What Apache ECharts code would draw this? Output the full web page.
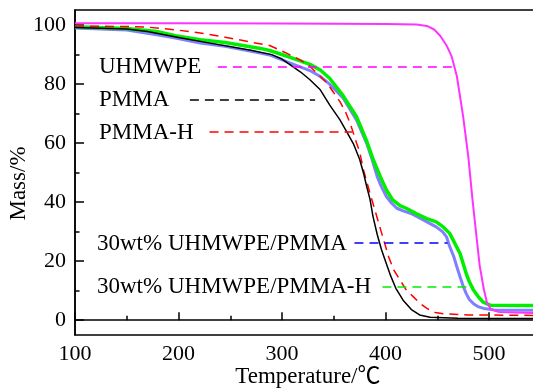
<!DOCTYPE html>
<html>
<head>
<meta charset="utf-8">
<script src="https://cdn.jsdelivr.net/npm/echarts@6/dist/echarts.min.js"></script>
<style>
  html, body { margin: 0; padding: 0; background: #fff; }
  #chart { width: 533px; height: 389px; }
</style>
</head>
<body>
<div id="chart"></div>
<script>
const xTicks = [100, 200, 300, 400, 500];
const xMinorTicks = [150, 250, 350, 450];
const yTicks = [0, 20, 40, 60, 80, 100];
const yMinorTicks = [10, 30, 50, 70, 90];

// [temperature, mass%]
const uhmwpe = [[100,100.5],[200,100.5],[300,100.4],[400,100.3],[430,100.1],[440,99.6],[447,98.4],[453,96.2],[459,93],[464,89.2],[469,82.5],[475,69],[480,55.4],[484,41],[488,28],[491,18.5],[495,10.5],[498,6],[502,3.6],[510,2.8],[550,2.4]];
const pmma = [[100,99.1],[150,98.6],[170,97.7],[200,95.7],[240,93.2],[270,91.4],[290,89.9],[300,88.4],[308,86.4],[318,84.0],[327,81.4],[337,78.0],[346,72.9],[356,67.8],[363,63.5],[369,59.7],[375,54.5],[379,49.5],[382,45],[385,41],[388,35],[392,29],[396,24],[400,20],[405,15],[410,10.8],[417,6.8],[425,3.6],[433,1.8],[443,1.0],[470,0.7],[550,0.6]];
const pmmaH = [[100,99.6],[150,99.4],[170,99.2],[197,98.3],[221,97.2],[245,95.8],[272,94.0],[288,93.0],[305,90.3],[318,88],[327,85.9],[337,82.5],[343,80.5],[349,77.5],[356,74],[362,70],[366,66.5],[372,60],[375,57],[379,50.5],[385,43],[390,37],[395,31],[403,21.5],[408,17],[414,13.6],[420,10.3],[427,7.9],[433,5.8],[440,4.0],[448,2.6],[456,2.2],[480,1.8],[550,1.6]];
const blend = [[100,98.9],[150,98.2],[179,96.6],[197,95.5],[221,93.8],[245,92.7],[279,90.4],[288,89.8],[308,87],[327,84.5],[337,82.5],[346,79.9],[359,75.2],[372,67.8],[382,59.7],[387,54.5],[392,48.6],[396,45.2],[401,41.8],[406,39.6],[411,37.9],[417,37],[424,36.2],[432,34.8],[440,33.3],[449,31.6],[455,30],[459,28.2],[462,25],[466,21.5],[469,18],[472,14.7],[475,11.6],[478,9],[481,7.0],[485,5.6],[490,4.5],[495,4],[505,3.5],[550,3.4]];
const blendH = [[100,99.3],[150,98.7],[179,97.7],[197,96.3],[221,94.9],[245,94.0],[279,92.0],[288,91.3],[308,89.0],[327,86.6],[337,84.7],[346,81.9],[359,76],[372,68.9],[382,60.5],[388,54.5],[395,48.6],[401,44],[407,40.7],[414,38.8],[420,37.9],[430,36],[440,34.4],[449,33.3],[456,31.5],[462,29.4],[467,26],[472,22.6],[478,15.8],[481,13],[485,10.2],[490,7.8],[494,6.2],[501,5.1],[550,5.0]];

const names = ['UHMWPE', 'PMMA', 'PMMA-H', '30wt% UHMWPE/PMMA', '30wt% UHMWPE/PMMA-H'];
const keyY = [85.8, 74.6, 63.7, 26.1, 11.5];
const keyFrom = [238, 211, 230, 370, 397];
const keyTo = [465, 332, 368, 460, 485];

const FONT = "'Liberation Serif', 'Noto Sans CJK SC', serif";
const chart = echarts.init(document.getElementById('chart'));

function keyLine(i, color) {
  return {
    silent: true,
    symbol: 'none',
    label: { show: false },
    lineStyle: { color: color, type: [9, 6], width: 1.5 },
    data: [[{ coord: [keyFrom[i], keyY[i]] }, { coord: [keyTo[i], keyY[i]] }]]
  };
}

const axisText = { color: '#000', fontSize: 22, fontFamily: FONT };
const nameText = { color: '#000', fontSize: 23, fontFamily: FONT };

chart.setOption({
  animation: false,
  backgroundColor: '#fff',
  grid: {
    left: 75, top: 10, bottom: 54, right: -7.75,
    outerBoundsMode: 'none', containLabel: false,
    show: true, borderColor: '#000', borderWidth: 1.5
  },
  xAxis: [
    {
      type: 'value', min: 100, max: 550,
      name: 'Temperature/℃', nameLocation: 'middle', nameGap: 30, nameMoveOverlap: false,
      nameTextStyle: nameText,
      axisLine: { lineStyle: { color: '#000', width: 1.5 } },
      axisTick: { inside: true, length: 8, customValues: xTicks, lineStyle: { color: '#000', width: 1.5 } },
      axisLabel: Object.assign({ customValues: xTicks, margin: 8 }, axisText),
      splitLine: { show: false }
    },
    {
      type: 'value', min: 100, max: 550, position: 'bottom',
      axisLine: { show: false },
      axisTick: { inside: true, length: 4.5, customValues: xMinorTicks, lineStyle: { color: '#000', width: 1.5 } },
      axisLabel: { show: false },
      splitLine: { show: false }
    }
  ],
  yAxis: [
    {
      type: 'value', min: -5, max: 105,
      name: 'Mass/%', nameLocation: 'middle', nameGap: 45, nameMoveOverlap: false,
      nameTextStyle: Object.assign({ padding: [0, 22, 0, 0] }, nameText),
      axisLine: { show: true, lineStyle: { color: '#000', width: 1.5 } },
      axisTick: { show: true, inside: true, length: 9, customValues: yTicks, lineStyle: { color: '#000', width: 1.5 } },
      axisLabel: Object.assign({ customValues: yTicks, margin: 9 }, axisText),
      splitLine: { show: false }
    },
    {
      type: 'value', min: -5, max: 105, position: 'left',
      axisLine: { show: false },
      axisTick: { show: true, inside: true, length: 4.5, customValues: yMinorTicks, lineStyle: { color: '#000', width: 1.5 } },
      axisLabel: { show: false },
      splitLine: { show: false }
    }
  ],
  series: [
    {
      name: names[3], type: 'line', data: blend, symbol: 'none',
      lineStyle: { color: '#7f7fff', width: 3, join: 'round' },
      markLine: keyLine(3, '#0000ff')
    },
    {
      name: names[4], type: 'line', data: blendH, symbol: 'none',
      lineStyle: { color: '#00ee00', width: 3.5, join: 'round' },
      markLine: keyLine(4, '#00ee00')
    },
    {
      name: names[0], type: 'line', data: uhmwpe, symbol: 'none',
      lineStyle: { color: '#ff33ff', width: 2, join: 'round' },
      markLine: keyLine(0, '#ff00ff')
    },
    {
      name: names[2], type: 'line', data: pmmaH, symbol: 'none',
      lineStyle: { color: '#ff0000', width: 1.5, type: [9, 6] },
      markLine: keyLine(2, '#ff0000')
    },
    {
      name: names[1], type: 'line', data: pmma, symbol: 'none',
      lineStyle: { color: '#000', width: 1.5, join: 'round' },
      markLine: keyLine(1, '#000')
    }
  ]
});

// key texts, left-aligned, placed at the height of their dashed lines
chart.setOption({
  graphic: names.map(function (n, i) {
    const p = chart.convertToPixel({ gridIndex: 0 }, [100, keyY[i]]);
    return {
      type: 'text', left: i < 3 ? 99 : 97, top: p[1] - 11,
      style: { text: n, fill: '#000', font: '23px ' + FONT }
    };
  })
});
</script>
</body>
</html>
